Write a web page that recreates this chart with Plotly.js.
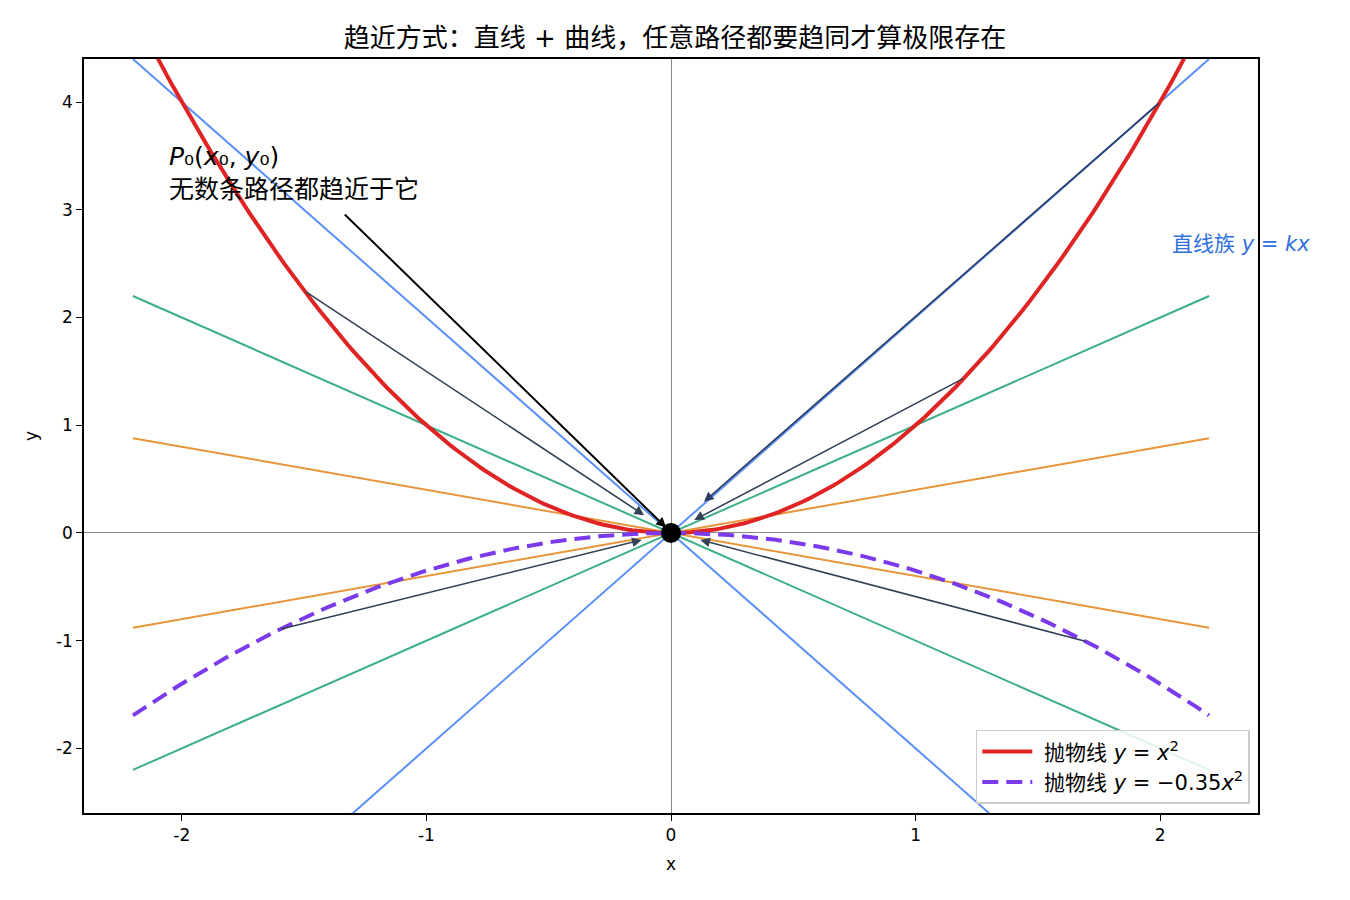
<!DOCTYPE html>
<html>
<head>
<meta charset="utf-8">
<script src="https://cdn.plot.ly/plotly-3.0.1.min.js"></script>
<style>body{margin:0;background:#fff}#chart{width:1350px;height:900px}</style>
</head>
<body>
<div id="chart"></div>
<script>
// slopes of the straight-line family y = kx
var slopes = [-2, -1, -0.4, 0.4, 1, 2];
var slopeColors = {"2": "#5b8ff9", "1": "#3aaf86", "0.4": "#e8963a"};
var xLine = [-2.2, 2.2];

// parabola samples
var xs = [];
for (var i = 0; i <= 220; i++) xs.push(-2.2 + i * 0.02);
var coefA = 1, coefB = -0.35;

// arrows: tails on the curves, heads near the origin
var arrowTails = [[2.0, 4.0], [1.2, 1.44], [-1.5, 2.25], [-1.6, -0.896], [1.7, -1.01]];
var arrowHeads = [[0.135, 0.29], [0.095, 0.12], [-0.11, 0.165], [-0.12, -0.065], [0.12, -0.065]];
var arrowColors = ["#2c3e63", "#334155", "#334155", "#334155", "#334155"];

var FONT = "DejaVu Sans, Noto Sans CJK SC, sans-serif";

var data = [];
slopes.forEach(function (k) {
    data.push({
        x: xLine, y: xLine.map(function (v) { return k * v; }),
        mode: "lines", line: {color: slopeColors[String(Math.abs(k))], width: 2},
        showlegend: false, hoverinfo: "skip"
    });
});
data.push({
    x: xs, y: xs.map(function (v) { return coefA * v * v; }),
    mode: "lines", line: {color: "#e02424", width: 4},
    name: "\u00a0抛物线 <i>y</i> = <i>x</i><sup>2</sup>"
});
data.push({
    x: xs, y: xs.map(function (v) { return coefB * v * v; }),
    mode: "lines", line: {color: "#7c3aed", width: 4, dash: "16px,8px"},
    name: "\u00a0抛物线 <i>y</i> = −0.35<i>x</i><sup>2</sup>"
});
data.push({
    x: [0], y: [0], mode: "markers",
    marker: {color: "#000", size: 20}, showlegend: false
});

var annotations = [];
arrowTails.forEach(function (t, i) {
    annotations.push({
        x: arrowHeads[i][0], y: arrowHeads[i][1], ax: t[0], ay: t[1],
        xref: "x", yref: "y", axref: "x", ayref: "y",
        text: "", showarrow: true, arrowhead: 2, arrowsize: 1.2, arrowwidth: 1.6,
        arrowcolor: arrowColors[i], standoff: 0, startstandoff: 0
    });
});
// main black arrow from the label
annotations.push({
    x: -0.02, y: 0.05, ax: -1.34, ay: 2.97,
    xref: "x", yref: "y", axref: "x", ayref: "y",
    text: "", showarrow: true, arrowhead: 2, arrowsize: 1, arrowwidth: 2,
    arrowcolor: "#000", standoff: 0
});
annotations.push({
    x: -2.06, y: 3.65, xref: "x", yref: "y", xanchor: "left", yanchor: "top",
    align: "left", showarrow: false,
    text: "<i>P</i>₀(<i>x</i>₀, <i>y</i>₀)<br>无数条路径都趋近于它",
    font: {family: FONT, size: 25, color: "#000"}
});
annotations.push({
    x: 2.04, y: 2.68, xref: "x", yref: "y", xanchor: "left", yanchor: "middle",
    showarrow: false, text: "直线族 <i>y</i> = <i>kx</i>",
    font: {family: FONT, size: 21, color: "#2f6fe0"}
});

var layout = {
    width: 1350, height: 900,
    margin: {l: 84, r: 92, t: 59, b: 87},
    paper_bgcolor: "#fff", plot_bgcolor: "#fff",
    font: {family: FONT, size: 17, color: "#000"},
    title: {
        text: "趋近方式：直线 + 曲线，任意路径都要趋同才算极限存在",
        x: 0.5, xanchor: "center", y: 0.958, yanchor: "middle",
        font: {family: FONT, size: 26, color: "#000"}
    },
    xaxis: {
        range: [-2.4, 2.4], tickvals: [-2, -1, 0, 1, 2], ticktext: ["-2", "-1", "0", "1", "2"],
        ticks: "outside", ticklen: 6, tickcolor: "#000", showgrid: false,
        zeroline: true, zerolinecolor: "#888", zerolinewidth: 1,
        showline: true, linecolor: "#000", linewidth: 1.5, mirror: true,
        title: {text: "x", font: {size: 17}, standoff: 14}
    },
    yaxis: {
        range: [-2.6, 4.4], tickvals: [-2, -1, 0, 1, 2, 3, 4], ticktext: ["-2", "-1", "0", "1", "2", "3", "4"],
        ticks: "outside", ticklen: 6, tickcolor: "#000", showgrid: false,
        zeroline: true, zerolinecolor: "#888", zerolinewidth: 1,
        showline: true, linecolor: "#000", linewidth: 1.5, mirror: true,
        title: {text: "y", font: {size: 17}, standoff: 14}
    },
    legend: {
        x: 0.993, xanchor: "right", y: 0.012, yanchor: "bottom",
        bgcolor: "rgba(255,255,255,0.85)", bordercolor: "#ccc", borderwidth: 1.5,
        font: {family: FONT, size: 21}, itemwidth: 50, tracegroupgap: 6
    },
    annotations: annotations,
    showlegend: true
};

Plotly.newPlot("chart", data, layout, {displayModeBar: false});
</script>
</body>
</html>
